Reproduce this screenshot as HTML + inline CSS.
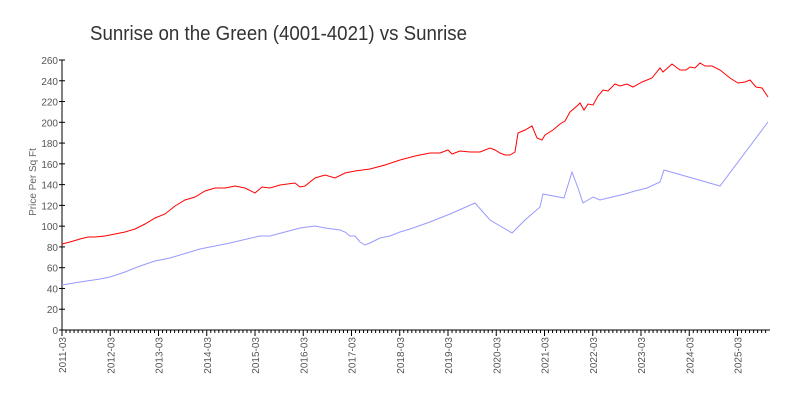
<!DOCTYPE html>
<html><head><style>
body{margin:0;background:#fff;}
svg{display:block;font-family:"Liberation Sans",sans-serif;}
</style></head><body>
<svg width="800" height="400" viewBox="0 0 800 400">
<text x="90" y="40" font-size="20" fill="#333" textLength="377" lengthAdjust="spacingAndGlyphs">Sunrise on the Green (4001-4021) vs Sunrise</text>
<text transform="translate(36,182) rotate(-90)" font-size="10" fill="#666" text-anchor="middle">Price Per Sq Ft</text>
<g id="y" font-size="10" fill="#555" text-anchor="end"></g>
<g id="x" font-size="10" fill="#555"></g>
<line x1="62" y1="60" x2="62" y2="330" stroke="#000"/>
<line x1="62" y1="330" x2="770" y2="330" stroke="#000"/>
<g id="t" stroke="#000"></g>
<polyline fill="none" stroke="#f00" stroke-width="1" points="62,244 70,242 80,239 88,237 95,237 105,236 115,234 125,232 135,229 145,224 155,218 165,214 175,206 185,200 195,197 205,191 215,188 225,188 235,186 245,188 255,193 262,187 270,188 280,185 295,183 300,187 305,186 315,178 325,175 335,178 345,173 355,171 370,169 385,165 400,160 415,156 430,153 440,153 448,150 452,154 460,151 470,152 480,152 490,148 495,150 500,153 505,155 510,155 515,152 518,133 525,130 532,126 537,138 542,140 545,135 553,130 560,124 565,121 570,112 577,106 580,103 584,110 588,104 593,105 598,96 603,90 608,91 615,84 620,86 627,84 633,87 642,82 652,78 660,68 663,72 672,64 680,70 686,70 690,67 695,68 700,63 705,66 712,66 720,70 730,78 738,83 745,82 750,80 756,87 762,88 768,97"/>
<polyline fill="none" stroke="#99f" stroke-width="1" points="62,285 80,282 100,279 110,277 125,272 140,266 155,261 170,258 200,249 230,243 260,236 270,236 285,232 300,228 315,226 325,228 340,230 345,232 350,236 355,236 360,242 365,245 370,243 380,238 390,236 400,232 410,229 430,222 450,214 475,203 490,220 512,233 525,220 540,207 543,194 564,198 572,172 578,188 583,203 593,197 600,200 608,198 625,194 635,191 647,188 660,182 664,170 720,186 768,122"/>
</svg>
<script>
var y=document.getElementById('y'),x=document.getElementById('x'),t=document.getElementById('t'),ns='http://www.w3.org/2000/svg';
function el(p,n,a,txt){var e=document.createElementNS(ns,n);for(var k in a)e.setAttribute(k,a[k]);if(txt)e.textContent=txt;p.appendChild(e);}
for(var v=0;v<=260;v+=20){var py=330-v*270/260;el(y,'text',{x:58,y:py+4},''+v);el(t,'line',{x1:59,y1:py,x2:65,y2:py});}
for(var m=0;m<=175;m++){var px=62+m*48.25/12;var maj=m%12==0;el(t,'line',{x1:px,y1:330,x2:px,y2:maj?336:333});
if(maj){var yr=2011+m/12;el(x,'text',{transform:'translate('+(px+4)+',337) rotate(-90)','text-anchor':'end'},yr+'-03');}}
</script>
</body></html>
